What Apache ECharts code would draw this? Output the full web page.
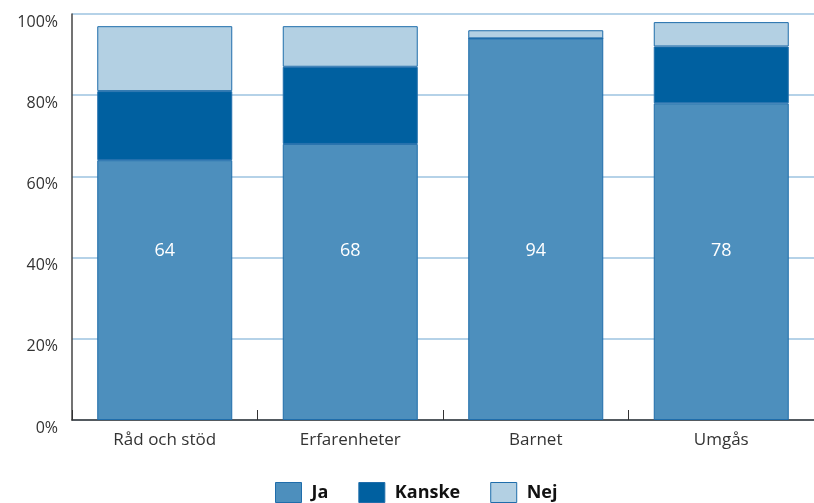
<!DOCTYPE html>
<html>
<head>
<meta charset="utf-8">
<script src="https://cdn.jsdelivr.net/npm/echarts@6/dist/echarts.min.js"></script>
<style>
  html, body { margin: 0; padding: 0; background: #fff; }
  #chart { width: 814px; height: 503px; }
</style>
</head>
<body>
<div id="chart"></div>
<script>
// Answer shares (%) per topic
const categories = ['Råd och stöd', 'Erfarenheter', 'Barnet', 'Umgås'];
const ja = [64, 68, 94, 78];
const kanske = [17, 19, 0, 14];
const nej = [16, 10, 2, 6];
const yTicks = [0, 20, 40, 60, 80, 100];

const FONT = '"Open Sans", "Noto Sans", sans-serif';
const BORDER = '#1f6dab';

const chart = echarts.init(document.getElementById('chart'), null, { renderer: 'canvas' });

function seriesOf(name, data, color, withLabel) {
  return {
    name: name,
    type: 'bar',
    stack: 'total',
    data: data,
    barWidth: 135,
    itemStyle: { color: color, borderColor: BORDER, borderWidth: 1 },
    label: withLabel ? {
      show: true,
      position: 'insideBottom',
      distance: 160,
      color: '#ffffff',
      fontFamily: FONT,
      fontSize: 18
    } : { show: false },
    emphasis: { disabled: true },
    animation: false
  };
}

chart.setOption({
  animation: false,
  grid: { left: 72, top: 14, width: 746, height: 406, containLabel: false },
  legend: {
    top: 482,
    left: 275,
    padding: 0,
    icon: 'rect',
    itemWidth: 26,
    itemHeight: 20,
    itemGap: 30,
    data: ['Ja', 'Kanske', 'Nej'],
    itemStyle: { borderColor: BORDER, borderWidth: 1 },
    textStyle: { fontFamily: FONT, fontSize: 18, fontWeight: 'bold', color: '#111', padding: [0, 0, 0, 5] }
  },
  xAxis: {
    type: 'category',
    data: categories,
    axisLine: { lineStyle: { color: '#333', width: 1.5 } },
    axisTick: { show: true, inside: true, length: 10, lineStyle: { color: '#333' } },
    axisLabel: { fontFamily: FONT, fontSize: 17, color: '#333', margin: 12 }
  },
  yAxis: {
    type: 'value',
    min: yTicks[0],
    max: yTicks[yTicks.length - 1],
    interval: yTicks[1] - yTicks[0],
    axisLine: { show: true, lineStyle: { color: '#444', width: 1.5 } },
    axisTick: { show: false },
    splitLine: { lineStyle: { color: '#9dc3e0', width: 1.5 } },
    axisLabel: {
      formatter: '{value}%', fontFamily: FONT, fontSize: 16, color: '#333',
      margin: 14, verticalAlign: 'top'
    }
  },
  series: [
    seriesOf('Ja', ja, '#4d8fbd', true),
    seriesOf('Kanske', kanske, '#0060a0', false),
    seriesOf('Nej', nej, '#b3d0e3', false)
  ]
});
</script>
</body>
</html>
